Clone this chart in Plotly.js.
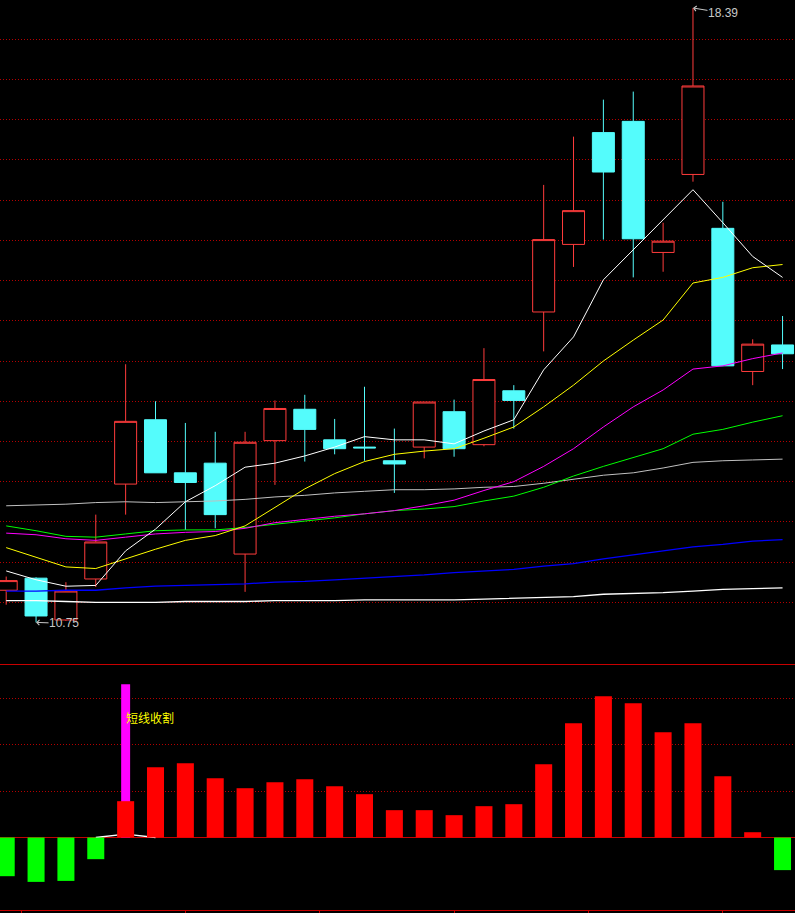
<!DOCTYPE html>
<html>
<head>
<meta charset="utf-8">
<script src="https://cdn.plot.ly/plotly-3.0.1.min.js"></script>
<style>
html,body{margin:0;padding:0;background:#000;overflow:hidden}
#chart{width:795px;height:913px}
</style>
</head>
<body>
<div id="chart"></div>
<script>
// ---- data ----
const days = [0,1,2,3,4,5,6,7,8,9,10,11,12,13,14,15,16,17,18,19,20,21,22,23,24,25,26];

const openP  = [11.15,11.30,10.78,11.29,12.47,13.27,12.61,12.73,11.60,13.01,13.40,13.02,12.93,12.76,12.93,13.37,12.96,13.63,14.61,15.45,16.84,16.98,15.35,16.32,15.65,13.87,14.20];
const highP  = [11.32,11.31,11.25,12.09,13.96,13.50,13.23,13.12,13.12,13.51,13.58,13.28,13.68,13.16,13.49,13.52,14.16,13.70,16.19,16.79,17.25,17.35,15.72,18.39,15.98,14.27,14.56];
const lowP   = [10.97,10.75,10.77,11.19,12.09,12.61,11.90,11.92,11.13,12.46,12.75,12.84,12.76,12.36,12.79,12.81,12.94,13.16,14.12,15.17,15.51,15.04,15.11,16.23,13.94,13.70,13.90];
const closeP = [11.27,10.83,11.14,11.75,13.25,12.61,12.49,12.09,12.99,13.41,13.15,12.91,12.92,12.72,13.49,12.91,13.77,13.51,15.51,15.87,16.35,15.52,15.49,17.42,13.94,14.21,14.09];

const ma5   = [11.39,11.28,11.20,11.21,11.64,11.91,12.25,12.45,12.68,12.73,12.82,12.93,13.06,13.02,13.02,12.97,13.13,13.27,13.89,14.30,15.01,15.38,15.75,16.13,15.72,15.30,15.04];
const ma10  = [11.68,11.56,11.44,11.42,11.54,11.66,11.77,11.83,11.95,12.18,12.41,12.60,12.75,12.84,12.88,12.91,13.04,13.18,13.43,13.70,14.00,14.26,14.51,14.97,15.04,15.16,15.20];
const ma20  = [11.86,11.84,11.79,11.77,11.81,11.85,11.87,11.88,11.92,11.99,12.03,12.07,12.10,12.14,12.20,12.27,12.39,12.50,12.69,12.91,13.18,13.43,13.64,13.90,13.94,14.03,14.10];
const ma30  = [11.95,11.89,11.82,11.81,11.85,11.89,11.90,11.90,11.93,11.97,12.01,12.05,12.10,12.14,12.16,12.19,12.26,12.32,12.43,12.57,12.69,12.80,12.91,13.09,13.15,13.24,13.32];
const ma60  = [12.20,12.21,12.22,12.24,12.25,12.24,12.25,12.26,12.28,12.31,12.33,12.36,12.38,12.40,12.40,12.41,12.43,12.44,12.48,12.53,12.58,12.61,12.67,12.74,12.76,12.77,12.78];
const ma120 = [11.14,11.14,11.15,11.15,11.18,11.20,11.21,11.22,11.23,11.25,11.26,11.28,11.30,11.32,11.34,11.37,11.39,11.41,11.45,11.48,11.54,11.59,11.64,11.69,11.72,11.76,11.78];
const ma250 = [11.02,11.02,11.01,11.00,11.00,11.00,11.01,11.01,11.01,11.02,11.02,11.02,11.03,11.03,11.03,11.03,11.04,11.05,11.06,11.07,11.10,11.11,11.12,11.14,11.16,11.17,11.18];

const priceGrid = [11,11.5,12,12.5,13,13.5,14,14.5,15,15.5,16,16.5,17,17.5,18];

// lower indicator panel
const osc = [-0.835,-0.958,-0.937,-0.468,0.784,1.517,1.604,1.28,1.064,1.193,1.258,1.107,0.935,0.59,0.59,0.482,0.676,0.719,1.583,2.467,3.05,2.899,2.273,2.467,1.324,0.114,-0.704];
const signalDays = [4];
const signalVals = [3.31];
const signalText = '短线收割';
const signalTextLevel = 2.6;
const flowDays = [3,4,5];
const flowVals = [0,0.075,0];
const oscGrid = [1,2,3];
const oscBase = 0;
const dateTicks = [0.5,6,10.5,15,19.5,24];

// ---- chart ----
const RED_LINE = '#c80000';
const GRID = '#b40000';
const xRange = [-0.2076, 26.417];
const topDomain = [0.271632, 1];
const botDomain = [0.003286, 0.271632];
const yRange = [10.2204, 18.489];
const y2Range = [-1.5648, 3.7233];

function maTrace(vals, color, width){
  return {type:'scatter', mode:'lines', x:days, y:vals, xaxis:'x', yaxis:'y',
          line:{color:color, width:width}, hoverinfo:'skip'};
}

let hiIdx = 0, loIdx = 0;
highP.forEach((v,i)=>{ if(v>highP[hiIdx]) hiIdx=i; });
lowP.forEach((v,i)=>{ if(v<lowP[loIdx]) loIdx=i; });

const traces = [
  {type:'candlestick', x:days, open:openP, high:highP, low:lowP, close:closeP,
   xaxis:'x', yaxis:'y', whiskerwidth:0, hoverinfo:'skip',
   increasing:{line:{color:'#ff3c3c', width:1}, fillcolor:'#000000'},
   decreasing:{line:{color:'#54fcfc', width:1}, fillcolor:'#54fcfc'}},
  maTrace(ma250, '#ffffff', 1.3),
  maTrace(ma120, '#0000ff', 1.3),
  maTrace(ma60, '#c0c0c0', 1),
  maTrace(ma30, '#00ff00', 1),
  maTrace(ma20, '#ff00ff', 1),
  maTrace(ma10, '#ffff00', 1),
  maTrace(ma5, '#ffffff', 1),
  {type:'scatter', mode:'lines', x:flowDays, y:flowVals, xaxis:'x2', yaxis:'y2',
   line:{color:'#ffffff', width:1.3}, hoverinfo:'skip'},
  {type:'bar', x:signalDays, y:signalVals, xaxis:'x2', yaxis:'y3', width:0.3,
   marker:{color:'#ff00ff', line:{width:0}}, hoverinfo:'skip'},
  {type:'bar', x:days, y:osc, xaxis:'x2', yaxis:'y3', width:0.57,
   marker:{color:osc.map(v=> v>=0 ? '#ff0000' : '#00ff00'), line:{width:0}}, hoverinfo:'skip'}
];

const layout = {
  width:795, height:913,
  margin:{l:0,r:0,t:0,b:0,pad:0},
  paper_bgcolor:'#000000', plot_bgcolor:'#000000',
  showlegend:false, barmode:'overlay', boxmode:'overlay', boxgap:0.263, boxgroupgap:0,
  xaxis:{domain:[0,1], range:xRange, anchor:'y', showgrid:false, zeroline:false,
         showticklabels:false, ticks:'', showline:false, rangeslider:{visible:false}},
  xaxis2:{domain:[0,1], range:xRange, anchor:'y2', showgrid:false, zeroline:false,
          showticklabels:false, showline:true, mirror:true, linecolor:RED_LINE, linewidth:1,
          ticks:'outside', ticklen:3, tickwidth:1, tickcolor:RED_LINE, tickmode:'array', tickvals:dateTicks},
  yaxis:{domain:topDomain, range:yRange, anchor:'x', tickmode:'array', tickvals:priceGrid,
         showticklabels:false, ticks:'', showgrid:true, gridcolor:GRID, gridwidth:1, griddash:'1px,2px',
         zeroline:false, showline:false},
  yaxis2:{domain:botDomain, range:y2Range, anchor:'x2', tickmode:'array', tickvals:oscGrid,
          showticklabels:false, ticks:'', showgrid:true, gridcolor:GRID, gridwidth:1, griddash:'1px,2px',
          zeroline:false, showline:false},
  yaxis3:{overlaying:'y2', anchor:'x2', range:y2Range, visible:false, showgrid:false, zeroline:false},
  shapes:[
    {type:'line', xref:'paper', x0:0, x1:1, yref:'y2', y0:oscBase, y1:oscBase,
     line:{color:RED_LINE, width:1}, layer:'below'}
  ],
  annotations:[
    {xref:'x2', yref:'y2', x:signalDays[0], y:signalTextLevel, text:signalText, showarrow:false,
     xanchor:'left', yanchor:'middle', xshift:-2,
     font:{family:'Noto Sans CJK SC', size:12, color:'#ffff00'}},
    {xref:'x', yref:'y', x:days[hiIdx], y:highP[hiIdx], text:highP[hiIdx].toFixed(2),
     showarrow:true, arrowhead:4, arrowsize:1, arrowwidth:1, arrowcolor:'#c8c8c8',
     ax:30, ay:5, standoff:0, borderpad:0,
     font:{family:'Liberation Sans', size:12, color:'#c8c8c8'}},
    {xref:'x', yref:'y', x:days[loIdx], y:lowP[loIdx], text:lowP[loIdx].toFixed(2),
     showarrow:true, arrowhead:4, arrowsize:1, arrowwidth:1, arrowcolor:'#c8c8c8',
     ax:28, ay:1, standoff:0, borderpad:0,
     font:{family:'Liberation Sans', size:12, color:'#c8c8c8'}}
  ]
};

Plotly.newPlot('chart', traces, layout, {staticPlot:true, displayModeBar:false});
</script>
</body>
</html>
